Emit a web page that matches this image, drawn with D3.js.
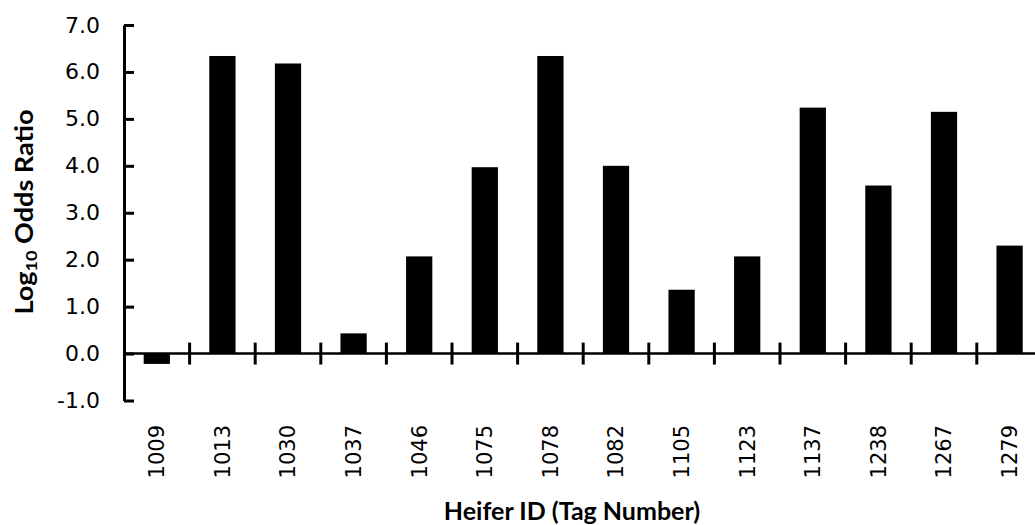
<!DOCTYPE html>
<html lang="en">
<head>
    <meta charset="UTF-8" />
    <title>Log10 Odds Ratio by Heifer</title>
    <script src="https://d3js.org/d3.v7.min.js"></script>
    <style>
        body { margin: 0; background: #fff; }
        .tick-label { font-family: "DejaVu Sans", sans-serif; font-size: 22px; fill: #000; }
        .x-label { font-size: 21px; }
        .axis-title { font-family: Lato, "Open Sans", sans-serif; font-weight: bold; font-size: 24px; fill: #000; }
    </style>
</head>
<body>
    <div class="canvas"></div>

    <script>
        // data
        const heiferIds = ["1009", "1013", "1030", "1037", "1046", "1075", "1078",
                           "1082", "1105", "1123", "1137", "1238", "1267", "1279"];
        const logOdds = [-0.22, 6.34, 6.18, 0.43, 2.07, 3.97, 6.34,
                         4.0, 1.36, 2.07, 5.24, 3.58, 5.15, 2.30];
        const yTicks = [-1, 0, 1, 2, 3, 4, 5, 6, 7];

        const width = 1035, height = 525;
        const svg = d3.select(".canvas").append("svg")
            .attr("width", width).attr("height", height);

        const marginLeft = 124, plotTop = 25, plotBottom = 400.5;
        const step = 65.6;

        const x = d3.scaleBand()
            .domain(heiferIds)
            .range([marginLeft, marginLeft + step * heiferIds.length])
            .padding(0);

        const y = d3.scaleLinear()
            .domain([-1, 7])
            .range([plotBottom, plotTop]);

        const barW = x.bandwidth() * 0.4;

        // bars
        svg.append("g").selectAll("rect")
            .data(heiferIds)
            .join("rect")
            .attr("x", (d) => x(d) + x.bandwidth() / 2 - barW / 2)
            .attr("width", barW)
            .attr("y", (d, i) => y(Math.max(0, logOdds[i])))
            .attr("height", (d, i) => Math.abs(y(logOdds[i]) - y(0)))
            .attr("fill", "#000");

        // y axis, ticks pointing inward, plain hyphen for the minus
        const yAxis = svg.append("g")
            .attr("transform", `translate(${marginLeft},0)`)
            .call(d3.axisLeft(y).tickValues(yTicks).tickFormat((d) => d.toFixed(1))
                .tickSizeInner(-10).tickSizeOuter(0).tickPadding(24));
        yAxis.attr("font-size", null).attr("font-family", null);
        yAxis.select(".domain").attr("stroke-width", 3);
        yAxis.selectAll(".tick line").attr("stroke-width", 3);
        yAxis.selectAll(".tick text").attr("class", "tick-label");

        // x axis line at zero, with crossing ticks between categories
        const y0 = y(0);
        svg.append("line")
            .attr("x1", marginLeft).attr("x2", width)
            .attr("y1", y0).attr("y2", y0)
            .attr("stroke", "#000").attr("stroke-width", 2.5);

        svg.append("g").selectAll("line")
            .data(heiferIds.slice(1))
            .join("line")
            .attr("x1", (d) => x(d)).attr("x2", (d) => x(d))
            .attr("y1", y0 - 11).attr("y2", y0 + 11)
            .attr("stroke", "#000").attr("stroke-width", 3);

        // rotated category labels
        svg.append("g").selectAll("text")
            .data(heiferIds)
            .join("text")
            .attr("class", "tick-label x-label")
            .attr("transform", (d) => `translate(${x(d) + x.bandwidth() / 2},425) rotate(-90)`)
            .attr("text-anchor", "end")
            .attr("dy", "0.35em")
            .text((d) => d);

        // axis titles
        const yt = svg.append("text")
            .attr("class", "axis-title")
            .attr("transform", "translate(33,212) rotate(-90)")
            .attr("text-anchor", "middle")
            .attr("textLength", 205)
            .attr("lengthAdjust", "spacingAndGlyphs");
        yt.append("tspan").text("Log");
        yt.append("tspan").attr("font-size", "16px").attr("dy", "4").text("10");
        yt.append("tspan").attr("dy", "-4").text(" Odds Ratio");

        svg.append("text")
            .attr("class", "axis-title")
            .attr("x", 572).attr("y", 520)
            .attr("font-size", "25px")
            .attr("text-anchor", "middle")
            .style("font-size", "25px")
            .text("Heifer ID (Tag Number)");
    </script>
</body>
</html>
